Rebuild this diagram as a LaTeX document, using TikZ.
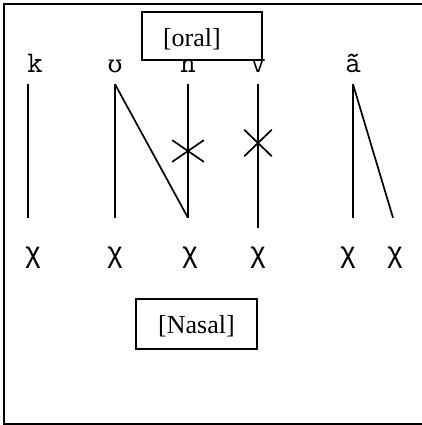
\documentclass[tikz,border=0pt]{standalone}
\usepackage{fontspec}
\setmainfont{Liberation Serif}
\newfontfamily\ipafont{DejaVu Serif}
\newfontfamily\slotfont{Liberation Sans}
\usetikzlibrary{shapes.misc}

\begin{document}
\begin{tikzpicture}[x=1pt,y=-1pt,
		seg/.style={anchor=base,inner sep=0pt,text depth=11pt,font=\ttfamily\fontsize{30}{32}\selectfont},
		slot/.style={anchor=base,inner sep=0pt,text height=44pt,font=\slotfont\fontsize{29}{32}\selectfont},
		feat/.style={draw,fill=white,line width=1.5pt,font=\fontsize{26}{30}\selectfont},
		assoc/.style={line width=1.7pt},
		delink/.style={cross out,draw,line width=1.7pt,inner sep=0pt}]
			\useasboundingbox (0,0) rectangle (422,425);
			\draw[line width=1.6pt] (422,4) -- (4,4) -- (4,424) -- (422,424);
			% melody
			\node[seg] (k) at (35,73) {k};
			\node[seg] (u) at (115,73) {\ipafont\fontsize{24}{28}\selectfont ʊ};
			\node[seg] (n) at (188,73) {n};
			\node[seg] (v) at (258,73) {v};
			\node[seg] (a) at (353,73) {ã};
			% skeleton
			\node[slot] (x1) at (33,262) {χ};
			\node[slot] (x2) at (115,262) {χ};
			\node[slot] (x3) at (190,262) {χ};
			\node[slot] (x4) at (258,262) {χ};
			\node[slot] (x5) at (348,262) {χ};
			\node[slot] (x6) at (395,262) {χ};
			% association lines
			\draw[assoc] ([xshift=-7pt]k.south) -- ([xshift=-7pt]k.south |- x1.north);
			\draw[assoc] (u.south) -- (u.south |- x2.north);
			\draw[assoc] (u.south) -- (n.south |- x3.north);
			\draw[assoc] (n.south) -- (n.south |- x3.north);
			\draw[assoc] (v.south) -- ([yshift=-10pt]v.south |- x4.north);
			\draw[assoc] (a.south) -- (a.south |- x5.north);
			\draw[assoc] (a.south) -- ([xshift=-2pt]x6.north);
			\node[delink,minimum width=30pt,minimum height=20pt] (cut1) at (188,151) {};
			\node[delink,minimum width=26pt,minimum height=25pt] (cut2) at (258,143) {};
			% features
			\node[feat,minimum width=120pt,minimum height=48pt,text width=78pt,align=left,text height=28pt,text depth=6pt] (oral) at (202,36) {[oral]};
			\node[feat,minimum width=121pt,minimum height=50pt,text height=24pt,text depth=6pt] (nasal) at (196.5,324) {[Nasal]};
		\end{tikzpicture}
\end{document}
